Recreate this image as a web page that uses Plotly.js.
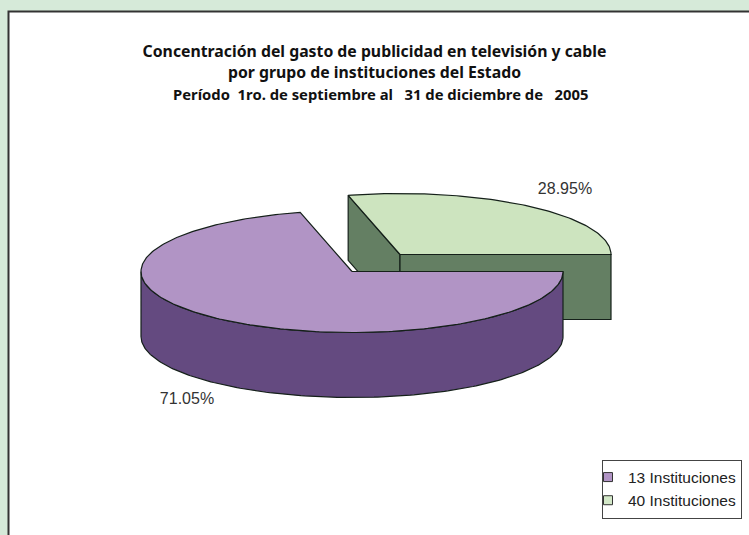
<!DOCTYPE html>
<html><head><meta charset="utf-8">
<script src="https://cdn.plot.ly/plotly-3.0.0.min.js"></script>
<style>html,body{margin:0;padding:0;background:#d6ead9}</style></head>
<body><div id="chart" style="width:749px;height:535px"></div>
<script>
const categories = ["13 Instituciones", "40 Instituciones"];
const shares = [71.05, 28.95];
const titleLines = ["Concentración del gasto de publicidad en televisión y cable", "por grupo de instituciones del Estado"];
const subtitleLine = "Período  1ro. de septiembre al   31 de diciembre de   2005";

const topColors = ["#b194c5", "#cde4bf"];
const sideColors = ["#644a80", "#647f63"];
const swatchColors = ["#b194c5", "#d3e8c8"];
const edge = "#15201a";

// Pie geometry on a pixel-scaled hidden axis
const rx = 211, ry = 61, depth = 65;
const centers = [[352, 271.5], [400, 254.5]];
const labelAnchors = [[187, 400], [565, 190]];

function pt(c, deg, dy) {
  const a = deg * Math.PI / 180;
  return [c[0] + rx * Math.sin(a), c[1] - ry * Math.cos(a) + (dy || 0)];
}
function arc(c, from, to, dy) {
  const out = [], n = Math.max(2, Math.ceil(Math.abs(to - from)));
  for (let i = 0; i <= n; i++) out.push(pt(c, from + (to - from) * i / n, dy));
  return out;
}
function poly(points, fill, name) {
  return {type: "scatter", mode: "lines", x: points.map(p => p[0]), y: points.map(p => p[1]),
    fill: "toself", fillcolor: fill, line: {color: edge, width: 1.2}, showlegend: false, hoverinfo: "skip", name};
}
const start = 90;                                  // first slice starts at 3 o'clock
const purpleEnd = start + shares[0] * 3.6;
const greenEnd = purpleEnd + shares[1] * 3.6;
const cP = centers[0], cG = centers[1];

const traces = [
  // green cut faces
  poly([pt(cG, purpleEnd, 0), cG, [cG[0], cG[1] + depth], pt(cG, purpleEnd, depth), pt(cG, purpleEnd, 0)], sideColors[1]),
  poly([cG, pt(cG, greenEnd, 0), pt(cG, greenEnd, depth), [cG[0], cG[1] + depth], cG], sideColors[1]),
  // green top
  poly([cG].concat(arc(cG, purpleEnd, greenEnd, 0), [cG]), topColors[1]),
  // purple wall
  poly(arc(cP, start, 270, 0).concat(arc(cP, 270, start, depth), [pt(cP, start, 0)]), sideColors[0]),
  // purple top
  poly([cP].concat(arc(cP, start, purpleEnd, 0), [cP]), topColors[0]),
  // data labels
  {type: "scatter", mode: "text", x: labelAnchors.map(p => p[0]), y: labelAnchors.map(p => p[1]),
   text: shares.map(v => v.toFixed(2) + "%"), textposition: "middle center",
   textfont: {family: "Liberation Sans", size: 16, color: "#333"}, showlegend: false, hoverinfo: "skip"},
  // legend entries
  ...categories.map((name, i) => ({type: "scatter", mode: "markers", x: [null], y: [null], name, legendgroup: "g" + i,
    marker: {symbol: "square", size: 9, color: swatchColors[i], line: {color: "#333", width: 1}}}))
];

const layout = {
  width: 749, height: 535, margin: {l: 0, r: 0, t: 0, b: 0},
  paper_bgcolor: "#d6ead9", plot_bgcolor: "rgba(0,0,0,0)",
  xaxis: {range: [0, 749], visible: false, fixedrange: true},
  yaxis: {range: [535, 0], visible: false, fixedrange: true},
  shapes: [{type: "rect", layer: "below", xref: "x", yref: "y", x0: 8.5, y0: 11.5, x1: 760, y1: 545,
    fillcolor: "#ffffff", line: {color: "#333", width: 2}}],
  title: {text: "<b>" + titleLines.join("<br>") + "</b>", x: 0.5, xanchor: "center", xref: "paper",
    y: 0.8935, yanchor: "middle", yref: "paper", font: {family: "Noto Sans", size: 15.8, color: "#111"}},
  annotations: [{xref: "x", yref: "y", x: 380, y: 94, showarrow: false, xanchor: "center", yanchor: "middle",
    text: "<b>" + subtitleLine + "</b>", font: {family: "Noto Sans", size: 14.8, color: "#111"}}],
  legend: {x: 602 / 749, y: 1 - 459.5 / 535, xanchor: "left", yanchor: "top", bgcolor: "#fff",
    bordercolor: "#444", borderwidth: 1, itemwidth: 30, indentation: -15, tracegroupgap: 7,
    entrywidth: 102, entrywidthmode: "pixels",
    font: {family: "Liberation Sans", size: 15.5, color: "#222"}, traceorder: "normal"},
  showlegend: true
};
Plotly.newPlot("chart", traces, layout, {displayModeBar: false, staticPlot: true});
</script></body></html>
